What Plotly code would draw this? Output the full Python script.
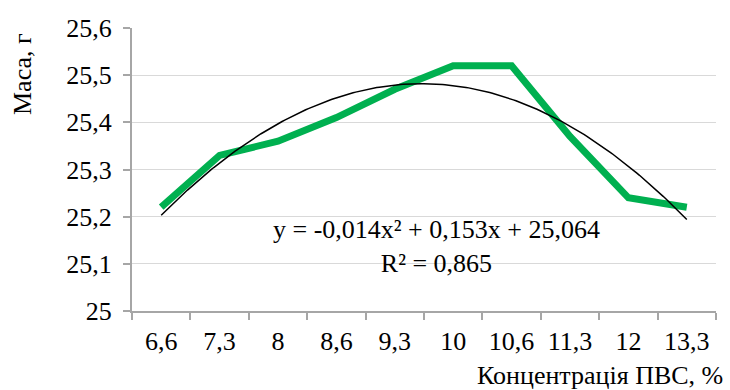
import plotly.graph_objects as go

categories = ["6,6", "7,3", "8", "8,6", "9,3", "10", "10,6", "11,3", "12", "13,3"]
mass = [25.22, 25.33, 25.36, 25.41, 25.47, 25.52, 25.52, 25.37, 25.24, 25.22]
trend_coef = [-0.014, 0.153, 25.064]  # a*x^2 + b*x + c, x = category index 1..n
y_ticks = [25.0, 25.1, 25.2, 25.3, 25.4, 25.5, 25.6]
y_ticktext = ["25", "25,1", "25,2", "25,3", "25,4", "25,5", "25,6"]

n = len(categories)
steps = 200
tx = [1 + (n - 1) * i / steps for i in range(steps + 1)]
ty = [trend_coef[0] * x * x + trend_coef[1] * x + trend_coef[2] for x in tx]

FONT = "Liberation Serif, Times New Roman, serif"
AXIS = "#a6a6a6"
GRID = "#d9d9d9"
FS = 26

fig = go.Figure()
fig.add_trace(go.Scatter(x=categories, y=mass, mode="lines",
                         line=dict(color="#00B050", width=7), xaxis="x", yaxis="y",
                         showlegend=False, hoverinfo="skip"))
fig.add_trace(go.Scatter(x=tx, y=ty, mode="lines",
                         line=dict(color="black", width=1.5), xaxis="x2", yaxis="y",
                         showlegend=False, hoverinfo="skip"))

fig.update_layout(
    width=730, height=390,
    margin=dict(l=132, r=14, t=28, b=79),
    paper_bgcolor="white", plot_bgcolor="white",
    font=dict(family=FONT, size=FS, color="black"),
    xaxis=dict(type="category", tickson="boundaries", showgrid=False,
               showline=True, linecolor=AXIS, linewidth=2,
               ticks="outside", ticklen=7, tickcolor=AXIS, tickwidth=2,
               ticklabelstandoff=6,
               tickfont=dict(size=FS), range=[-0.5, n - 0.5], zeroline=False),
    xaxis2=dict(overlaying="x", range=[0.5, n + 0.5], visible=False),
    yaxis=dict(range=[25.0, 25.6], tickvals=y_ticks, ticktext=y_ticktext,
               showgrid=True, gridcolor=GRID, gridwidth=1,
               showline=True, linecolor=AXIS, linewidth=2,
               ticks="outside", ticklen=7, tickcolor=AXIS, tickwidth=2,
               ticklabelstandoff=6,
               tickfont=dict(size=FS), zeroline=False),
    annotations=[
        dict(text="y = -0,014x² + 0,153x + 25,064<br>R² = 0,865",
             xref="paper", yref="paper", x=0.522, y=(311 - 246) / 283,
             xanchor="center", yanchor="middle", showarrow=False,
             font=dict(size=FS), align="center"),
        dict(text="Концентрація ПВС, %", xref="paper", yref="paper",
             x=1.0 + 9 / 584, y=-(375 - 311) / 283, xanchor="right", yanchor="middle",
             showarrow=False, font=dict(size=FS)),
        dict(text="Маса, г", xref="paper", yref="paper",
             x=-(132 - 22) / 584, y=(311 - 74) / 283, xanchor="center", yanchor="middle",
             textangle=-90, showarrow=False, font=dict(size=FS)),
    ],
)

fig.write_html("out.html")
